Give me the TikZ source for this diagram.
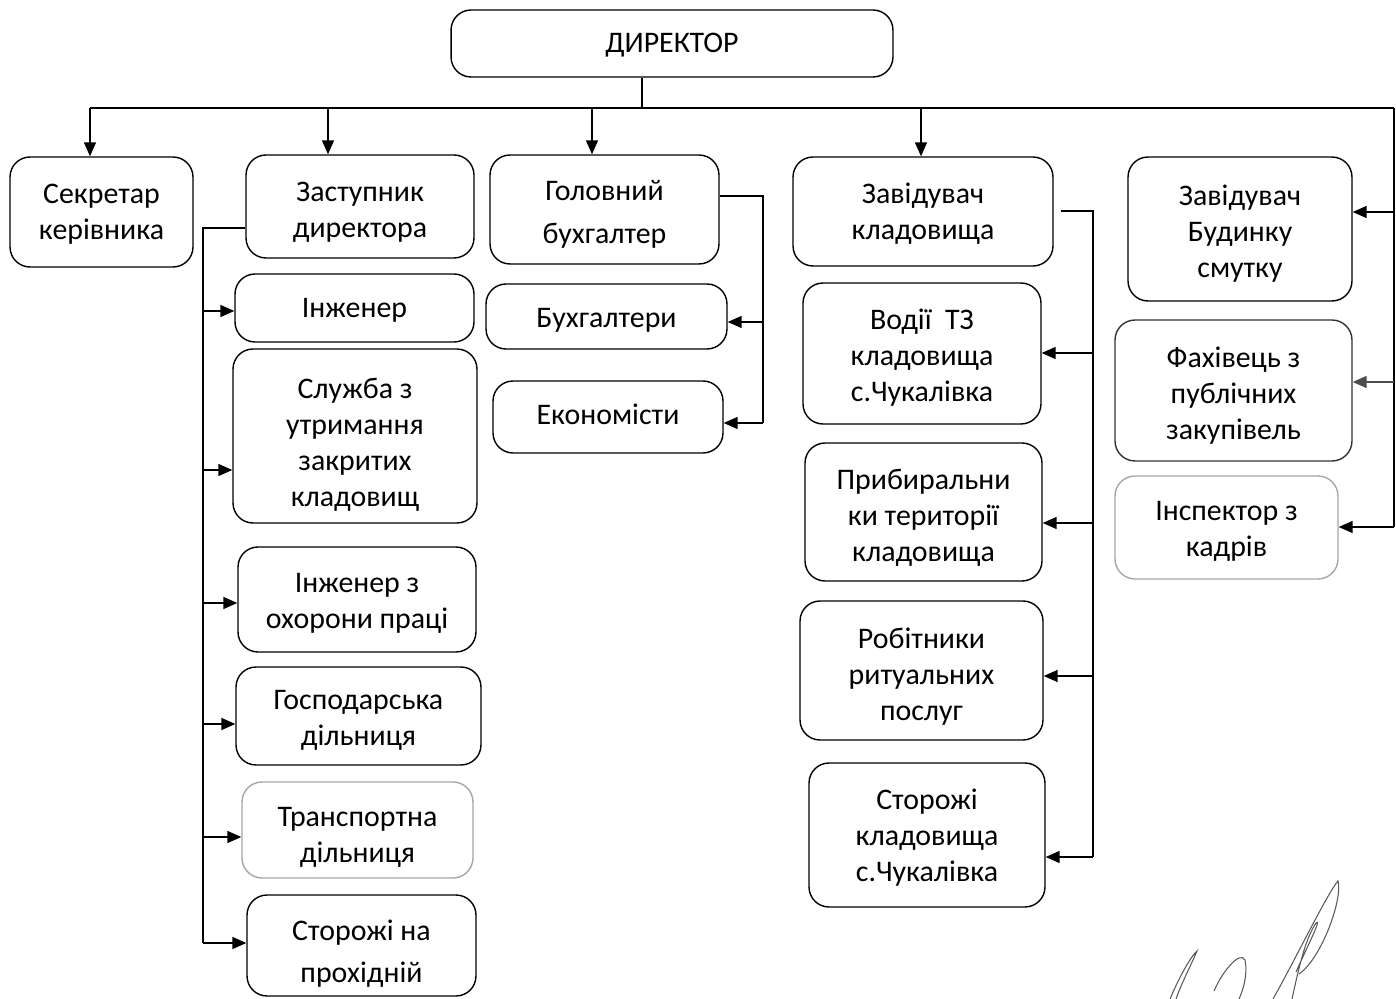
\documentclass[tikz,border=0pt]{standalone}
\usepackage{fontspec}
\setmainfont{Carlito}
\usetikzlibrary{arrows.meta}
\tikzset{
  % tp={m}{n}: mean baseline m px below centre, n lines (fractional for extra gap)
  tp/.code 2 args={\pgfmathsetmacro\myH{2*#1*0.567+(#2-1)*20.5}%
    \edef\mytmp{\noexpand\pgfkeysalso{text height=\myH pt, text depth=0pt}}\mytmp},
  box/.style={draw, rounded corners=0.4cm, line width=0.8pt, align=center,
    font=\fontsize{17}{20.5}\selectfont, inner sep=0pt},
  lightbox/.style={box, draw=black!35},
  conn/.style={line width=0.8pt},
  arr/.style={line width=0.8pt, -{Triangle[length=0.28cm,width=0.24cm]}},
  sig/.style={draw=black!65, line width=0.6pt}
}
\begin{document}
\begin{tikzpicture}[x=0.02cm,y=-0.02cm]
\useasboundingbox (0,0) rectangle (1396,999);

% boxes
\node[box, tp={9.5}{1}, minimum width=8.84cm, minimum height=1.34cm] (dir) at (672,43.5) {ДИРЕКТОР};
\node[box, tp={10}{2}, minimum width=3.66cm, minimum height=2.2cm] (sec) at (101.5,212) {Секретар\\керівника};
\node[box, tp={13}{2}, minimum width=4.56cm, minimum height=2.06cm] (dep) at (360,206.5) {Заступник\\директора};
\node[box, tp={12.5}{2.195}, minimum width=4.58cm, minimum height=2.18cm] (chief) at (604.5,209.5) {Головний\\[4pt]бухгалтер};
\node[box, tp={10.5}{2}, minimum width=5.2cm, minimum height=2.18cm] (head) at (923,211.5) {Завідувач\\кладовища};
\node[box, tp={12.7}{3}, minimum width=4.48cm, minimum height=2.88cm] (house) at (1240,229) {Завідувач\\Будинку\\смутку};

\node[box, tp={10}{1}, minimum width=4.78cm, minimum height=1.36cm] (eng) at (354.5,308) {Інженер};
\node[box, tp={16.75}{4}, minimum width=4.88cm, minimum height=3.48cm] (serv) at (355,436) {Служба з\\утримання\\закритих\\кладовищ};
\node[box, tp={11.5}{2}, minimum width=4.76cm, minimum height=2.1cm] (safe) at (357,599.5) {Інженер з\\охорони праці};
\node[box, tp={12}{2}, minimum width=4.9cm, minimum height=1.96cm] (farm) at (358.5,716) {Господарська\\дільниця};
\node[lightbox, tp={15}{2}, minimum width=4.62cm, minimum height=1.92cm] (trans) at (357.5,830) {Транспортна\\дільниця};
\node[box, tp={16}{2.146}, minimum width=4.58cm, minimum height=2.02cm] (gate) at (361.5,945.5) {Сторожі на\\[3pt]прохідній};

\node[box, tp={11.5}{1}, minimum width=4.82cm, minimum height=1.3cm] (acc) at (606.5,316.5) {Бухгалтери};
\node[box, tp={8}{1}, minimum width=4.6cm, minimum height=1.44cm] (econ) at (608,417) {Економісти};

\node[box, tp={12.5}{3}, minimum width=4.76cm, minimum height=2.82cm] (drv) at (922,353.5) {Водії\ \ ТЗ\\кладовища\\с.Чукалівка};
\node[box, tp={14}{3}, minimum width=4.74cm, minimum height=2.76cm] (clean) at (923.5,512) {Прибиральни\\ки території\\кладовища};
\node[box, tp={14.2}{3}, minimum width=4.86cm, minimum height=2.78cm] (work) at (921.5,670.5) {Робітники\\ритуальних\\послуг};
\node[box, tp={10.7}{3}, minimum width=4.72cm, minimum height=2.88cm] (guard) at (927,835) {Сторожі\\кладовища\\с.Чукалівка};

\node[box, tp={13.2}{3}, draw=black!80, minimum width=4.74cm, minimum height=2.82cm] (proc) at (1233.5,390.5) {Фахівець з\\публічних\\закупівель};
\node[lightbox, tp={11}{2}, minimum width=4.46cm, minimum height=2.06cm] (hr) at (1226.5,527.5) {Інспектор з\\кадрів};

% top bus
\coordinate (j) at (642,108);
\coordinate (bl) at (90,108);
\coordinate (br) at (1394,108);
\draw[conn] (dir.south -| j) -- (j);
\draw[conn] (bl) -- (br);
\coordinate (a1) at (90,108);
\coordinate (a2) at (328,108);
\coordinate (a3) at (592,108);
\coordinate (a4) at (921,108);
\draw[arr] (a1) -- (a1 |- sec.north);
\draw[arr] (a2) -- (a2 |- dep.north);
\draw[arr] (a3) -- (a3 |- chief.north);
\draw[arr] (a4) -- (a4 |- head.north);

% right column
\coordinate (r1) at (1394,212);
\coordinate (r2) at (1394,382);
\coordinate (r3) at (1394,527);
\draw[conn] (br) -- (r3);
\draw[arr] (r1) -- (r1 -| house.east);
\draw[arr, draw=black!70] (r2) -- (r2 -| proc.east);
\draw[arr] (r3) -- (r3 -| hr.east);

% deputy column
\coordinate (d0) at (203,228);
\coordinate (d1) at (203,311);
\coordinate (d2) at (203,470);
\coordinate (d3) at (203,603);
\coordinate (d4) at (203,724);
\coordinate (d5) at (203,837);
\coordinate (d6) at (203,943);
\draw[conn] (dep.west |- d0) -- (d0) -- (d6);
\draw[arr] (d1) -- (d1 -| eng.west);
\draw[arr] (d2) -- (d2 -| serv.west);
\draw[arr] (d3) -- (d3 -| safe.west);
\draw[arr] (d4) -- (d4 -| farm.west);
\draw[arr] (d5) -- (d5 -| trans.west);
\draw[arr] (d6) -- (d6 -| gate.west);

% chief accountant column
\coordinate (c0) at (763,196);
\coordinate (c1) at (763,322);
\coordinate (c2) at (763,423);
\draw[conn] (chief.east |- c0) -- (c0) -- (c2);
\draw[arr] (c1) -- (c1 -| acc.east);
\draw[arr] (c2) -- (c2 -| econ.east);

% cemetery head column
\coordinate (h0) at (1093,211);
\coordinate (h1) at (1093,353);
\coordinate (h2) at (1093,523);
\coordinate (h3) at (1093,676);
\coordinate (h4) at (1093,857);
\draw[conn, shorten <=0.14cm] (head.east |- h0) -- (h0) -- (h4);
\draw[arr] (h1) -- (h1 -| drv.east);
\draw[arr] (h2) -- (h2 -| clean.east);
\draw[arr] (h3) -- (h3 -| work.east);
\draw[arr] (h4) -- (h4 -| guard.east);

% signature
\draw[sig] (1170,999) .. controls (1180,975) and (1192,955) .. (1197,951)
  .. controls (1192,963) and (1182,982) .. (1176,999);
\draw[sig] (1214,991) .. controls (1222,972) and (1240,950) .. (1245,960)
  .. controls (1248,975) and (1243,990) .. (1239,999);
\draw[sig] (1273,999) .. controls (1295,960) and (1328,892) .. (1338,881)
  .. controls (1343,898) and (1322,958) .. (1299,974);
\draw[sig] (1296,972) .. controls (1308,945) and (1322,918) .. (1316,923)
  .. controls (1306,938) and (1300,962) .. (1292,999);
\end{tikzpicture}
\end{document}
